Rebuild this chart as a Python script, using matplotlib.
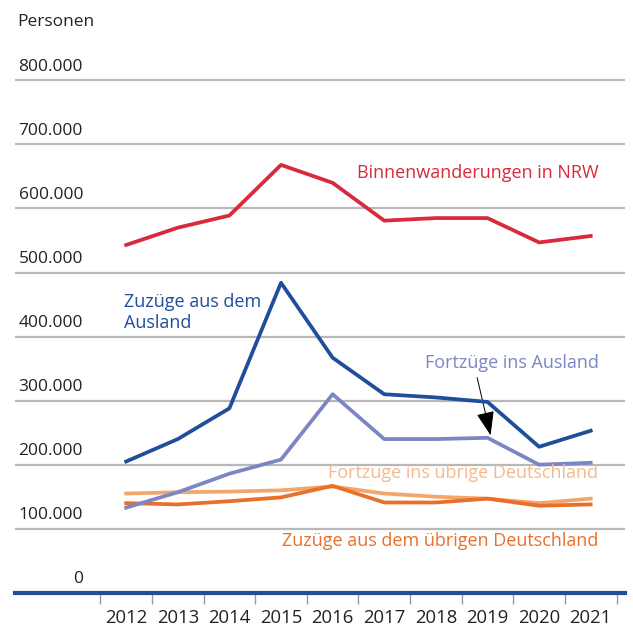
import numpy as np
import matplotlib
matplotlib.use("Agg")
from matplotlib import pyplot as plt
from matplotlib import transforms

# data
years = [2012, 2013, 2014, 2015, 2016, 2017, 2018, 2019, 2020, 2021]
binnen_nrw = [543000, 570000, 589000, 668000, 640000, 581000, 585000, 585000, 547000, 557000]
zuzug_ausland = [205000, 240000, 288000, 484000, 367000, 310000, 305000, 298000, 228000, 253000]
fortzug_ausland = [133000, 157000, 186000, 208000, 310000, 240000, 240000, 242000, 200000, 203000]
fortzug_de = [155000, 157000, 158000, 160000, 166000, 155000, 150000, 147000, 140000, 147000]
zuzug_de = [140000, 138000, 143000, 149000, 167000, 141000, 141000, 147000, 136000, 138000]
y_ticks = [0, 100000, 200000, 300000, 400000, 500000, 600000, 700000, 800000]

plt.rcParams['font.family'] = ['Open Sans', 'DejaVu Sans']

fig = plt.figure(figsize=(6.33, 6.26), dpi=100)
ax = fig.add_axes([0.024, 0.053, 0.963, 0.834])

x = np.array(years)
ax.set_xlim(2009.85, 2021.66)
ax.set_ylim(0, 815000)

# gridlines
for v in y_ticks[1:]:
    ax.axhline(v, color='#b8b8b8', lw=1.6, zorder=1)

red = '#d9293a'
dblue = '#1f4e9b'
purple = '#7c86c4'
lorange = '#f2a66e'
dorange = '#e8702a'

lw = 2.7
ax.plot(x, fortzug_de, color=lorange, lw=lw, zorder=3)
ax.plot(x, zuzug_de, color=dorange, lw=lw, zorder=3)
ax.plot(x, fortzug_ausland, color=purple, lw=lw, zorder=3)
ax.plot(x, zuzug_ausland, color=dblue, lw=lw, zorder=4)
ax.plot(x, binnen_nrw, color=red, lw=lw, zorder=4)

# y labels above gridlines, right aligned
trans = transforms.blended_transform_factory(fig.transFigure, ax.transData)
for v in y_ticks:
    lab = '0' if v == 0 else f'{v:,}'.replace(',', '.')
    ax.text(83 / 633, v + 21000, lab, transform=trans, ha='right', va='center',
            fontsize=12.5, color='#222222')
fig.text(17 / 633, 1 - 22 / 626, 'Personen', ha='left', va='center', fontsize=12.5, color='#222222')

# spines and ticks
for s in ['top', 'right', 'left']:
    ax.spines[s].set_visible(False)
ax.spines['bottom'].set_color(dblue)
ax.spines['bottom'].set_linewidth(3)
ax.set_yticks([])
ax.set_xticks(np.arange(2011.5, 2022, 1))
ax.set_xticklabels([])
ax.tick_params(axis='x', which='major', length=8, width=1, color='#999999', direction='out')
ax.set_xticks(x, minor=True)
ax.set_xticklabels([str(y) for y in years], minor=True)
ax.tick_params(axis='x', which='minor', length=0, pad=12, labelsize=13.3, labelcolor='#222222')

# series labels
fs = 13
ax.text(2021.15, 656000, 'Binnenwanderungen in NRW', color=red, ha='right', va='center', fontsize=fs)
ax.text(2011.95, 437000, 'Zuzüge aus dem\nAusland', color=dblue, ha='left', va='center',
        fontsize=fs, linespacing=1.2)
ax.text(2021.15, 358000, 'Fortzüge ins Ausland', color=purple, ha='right', va='center', fontsize=fs)
ax.text(2021.15, 187000, 'Fortzüge ins übrige Deutschland', color='#f5b98c', ha='right',
        va='center', fontsize=fs)
ax.text(2021.15, 81000, 'Zuzüge aus dem übrigen Deutschland', color=dorange, ha='right',
        va='center', fontsize=fs)
ax.annotate('', xy=(2019.06, 246000), xytext=(2018.8, 336000),
            arrowprops=dict(arrowstyle='-|>,head_length=0.75,head_width=0.28', color='black',
                            lw=0.7, mutation_scale=20, shrinkA=0, shrinkB=0))

fig.savefig('out.png', dpi=100)
